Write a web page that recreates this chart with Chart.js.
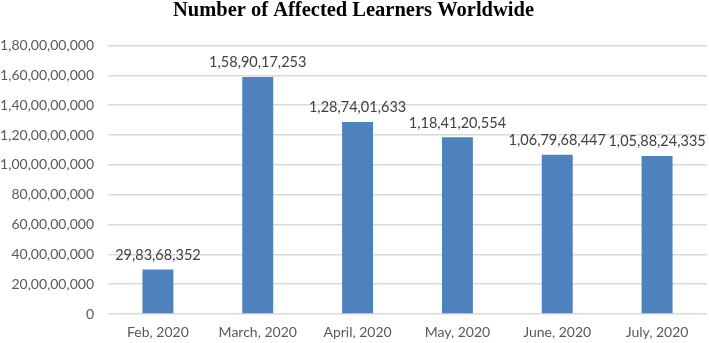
<!DOCTYPE html>
<html>
<head>
<meta charset="utf-8">
<script src="https://cdn.jsdelivr.net/npm/chart.js@4"></script>
<style>
  html, body { margin: 0; padding: 0; background: #fff; }
  #wrap { width: 709px; height: 343px; }
</style>
</head>
<body>
<div id="wrap"><canvas id="grafico"></canvas></div>
<script>
const meses = ["Feb, 2020", "March, 2020", "April, 2020", "May, 2020", "June, 2020", "July, 2020"];
const afetados = [298368352, 1589017253, 1287401633, 1184120554, 1067968447, 1058824335];
const eixoMax = 1800000000;
const eixoPasso = 200000000;

// agrupamento indiano: 1,58,90,17,253
function formatarIndiano(n) {
  const s = String(Math.round(n));
  if (s.length <= 3) return s;
  let ultimos = s.slice(-3);
  let resto = s.slice(0, -3);
  resto = resto.replace(/\B(?=(\d{2})+(?!\d))/g, ",");
  return resto + "," + ultimos;
}

const rotulosBarras = {
  id: "rotulosBarras",
  afterDatasetsDraw(chart) {
    const ctx = chart.ctx;
    const meta = chart.getDatasetMeta(0);
    ctx.save();
    ctx.font = "14.5px Lato, 'Open Sans', sans-serif";
    ctx.fillStyle = "#404040";
    ctx.textAlign = "center";
    ctx.textBaseline = "bottom";
    meta.data.forEach((bar, i) => {
      ctx.fillText(formatarIndiano(afetados[i]), bar.x, bar.y - 7);
    });
    ctx.restore();
  }
};

new Chart(document.getElementById("grafico").getContext("2d"), {
  type: "bar",
  data: {
    labels: meses,
    datasets: [{
      data: afetados,
      backgroundColor: "#4F81BD",
      borderWidth: 0,
      categoryPercentage: 1,
      barPercentage: 0.31
    }]
  },
  options: {
    responsive: true,
    maintainAspectRatio: false,
    animation: false,
    layout: { padding: { left: 0, right: 2, top: 0, bottom: 0 } },
    plugins: {
      legend: { display: false },
      tooltip: { enabled: false },
      title: {
        display: true,
        text: "Number of Affected Learners Worldwide",
        font: { family: "'Liberation Serif', serif", size: 20.5, weight: "bold", lineHeight: 1 },
        color: "#000",
        padding: { top: 0, bottom: 25 }
      }
    },
    scales: {
      x: {
        afterFit(scale) { scale.height = 29; },
        grid: { display: false },
        border: { display: false },
        ticks: {
          color: "#595959",
          font: { family: "Lato, 'Open Sans', sans-serif", size: 14 },
          padding: 2,
          maxRotation: 0
        }
      },
      y: {
        min: 0,
        max: eixoMax,
        afterFit(scale) { scale.width = 108; },
        grid: { color: "#d9d9d9", lineWidth: 1.5, drawTicks: false },
        border: { display: false },
        ticks: {
          stepSize: eixoPasso,
          color: "#595959",
          font: { family: "Lato, 'Open Sans', sans-serif", size: 14 },
          padding: 14,
          callback: v => formatarIndiano(v)
        }
      }
    }
  },
  plugins: [rotulosBarras]
});
</script>
</body>
</html>
